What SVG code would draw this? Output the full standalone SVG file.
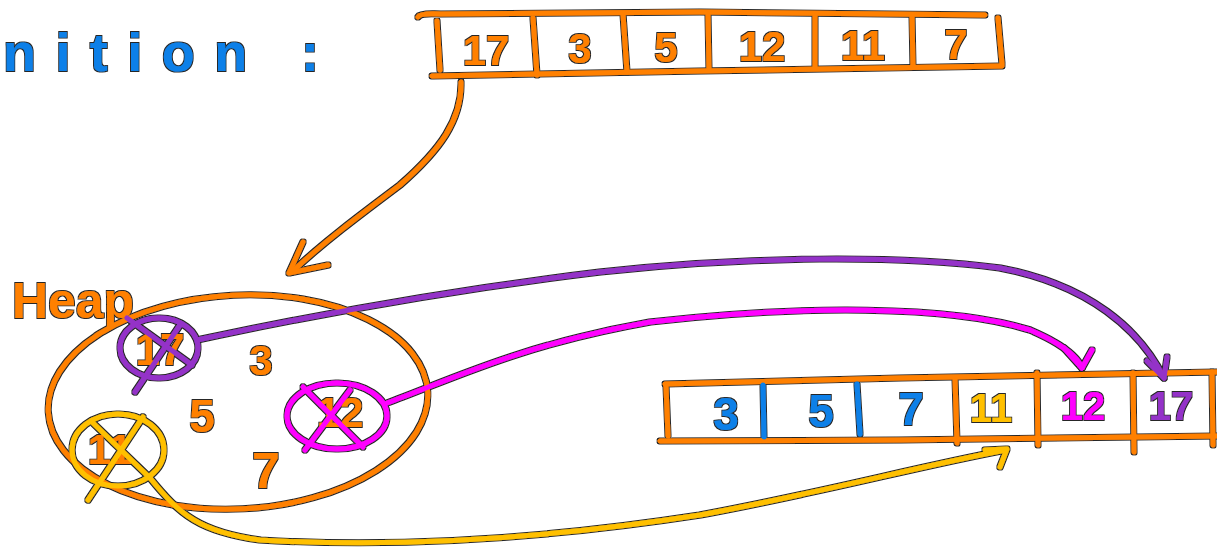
<svg xmlns="http://www.w3.org/2000/svg" width="1217" height="548" viewBox="0 0 1217 548">
<defs>
<filter id="ol" x="-5%" y="-5%" width="110%" height="110%">
<feMorphology in="SourceAlpha" operator="dilate" radius="1.2" result="d"/>
<feFlood flood-color="#000" flood-opacity="0.85"/>
<feComposite in2="d" operator="in" result="k"/>
<feMerge><feMergeNode in="k"/><feMergeNode in="SourceGraphic"/></feMerge>
</filter>
<style>
.s{fill:none;stroke-width:5;stroke-linecap:round;stroke-linejoin:round}
.or{stroke:#ff8000}.bl{stroke:#0f80e8}.pu{stroke:#9433c8}.mg{stroke:#ff00ff}.ye{stroke:#ffc000}
.t{font-family:"Liberation Sans",Arial,sans-serif;text-anchor:middle;font-weight:bold}
.tor{fill:#ff8000}.tbl{fill:#0f80e8}.tpu{fill:#9433c8}.tmg{fill:#ff00ff}.tye{fill:#ffc000}
</style>
</defs>
<rect width="1217" height="548" fill="#fff"/>
<g filter="url(#ol)">
<g id="title">
<text class="t tbl" x="3" y="71" font-size="54" textLength="316" lengthAdjust="spacing" style="text-anchor:start">nition :</text>
</g>
<g id="array-input">
<path class="s or" d="M418,17 Q420,13 440,14 L700,12 L985,15"/>
<path class="s or" d="M432,76 L700,71 L1002,66"/>
<path class="s or" d="M437,21 L440,70"/>
<path class="s or" d="M533,18 L537,75"/>
<path class="s or" d="M623,14 L627,72"/>
<path class="s or" d="M708,14 L709,70"/>
<path class="s or" d="M815,16 L815,68"/>
<path class="s or" d="M912,15 L913,67"/>
<path class="s or" d="M998,18 L1002,64"/>
<text class="t tor" x="486" y="65" font-size="42">17</text>
<text class="t tor" x="580" y="63" font-size="42">3</text>
<text class="t tor" x="666" y="62" font-size="42">5</text>
<text class="t tor" x="762" y="61" font-size="42">12</text>
<text class="t tor" x="863" y="60" font-size="42">11</text>
<text class="t tor" x="956" y="59" font-size="42">7</text>
</g>
<g id="heap">
<text class="t tor" x="12" y="318" font-size="50" textLength="122" lengthAdjust="spacingAndGlyphs" style="text-anchor:start">Heap</text>
<ellipse class="s or" cx="238" cy="402" rx="190" ry="107" transform="rotate(-3 238 402)"/>
<text class="t tor" x="261" y="375" font-size="42">3</text>
<text class="t tor" x="202" y="432" font-size="46">5</text>
<text class="t tor" x="266" y="488" font-size="50">7</text>
</g>
<g id="heap-17">
<text class="t tor" x="160" y="365" font-size="44">17</text>
<ellipse class="s pu" cx="159" cy="348" rx="39" ry="30"/>
<path class="s pu" d="M127,318 L192,365 M135,392 L180,325"/>
</g>
<g id="heap-12">
<text class="t tor" x="340" y="427" font-size="42">12</text>
<ellipse class="s mg" cx="337" cy="416" rx="50" ry="33"/>
<path class="s mg" d="M303,387 L363,447 M305,450 L350,390"/>
</g>
<g id="heap-11">
<text class="t tor" x="110" y="464" font-size="42">11</text>
<ellipse class="s ye" cx="118" cy="450" rx="46" ry="36"/>
<path class="s ye" d="M143,417 L88,500 M93,423 L150,478"/>
</g>
<g id="array-sorted">
<path class="s or" d="M665,384 L900,378 L1217,372"/>
<path class="s or" d="M660,441 L900,440 L1217,436"/>
<path class="s or" d="M666,386 L668,436"/>
<path class="s bl" d="M763,385 L764,437"/>
<path class="s bl" d="M857,384 L860,434"/>
<path class="s or" d="M955,378 L957,443"/>
<path class="s or" d="M1037,373 L1038,445"/>
<path class="s or" d="M1133,373 L1134,452"/>
<path class="s or" d="M1212,372 L1213,445"/>
<text class="t tbl" x="726" y="430" font-size="46">3</text>
<text class="t tbl" x="821" y="427" font-size="46">5</text>
<text class="t tbl" x="911" y="425" font-size="46">7</text>
<text class="t tye" x="991" y="422" font-size="40">11</text>
<text class="t tmg" x="1083" y="420" font-size="40">12</text>
<text class="t tpu" x="1171" y="420" font-size="40">17</text>
</g>
<g id="connectors">
<path class="s or" d="M461,82 C462,120 440,150 400,185 C360,215 320,245 292,272"/>
<path class="s or" d="M303,242 L289,273 L328,265"/>
<path class="s pu" d="M197,340 C300,318 450,290 600,272 C750,256 900,255 1000,268 C1090,285 1140,330 1164,378"/>
<path class="s pu" d="M1147,361 L1164,378 L1167,357"/>
<path class="s mg" d="M387,403 C450,380 520,345 650,322 C800,305 950,305 1030,330 C1065,345 1078,358 1082,368"/>
<path class="s mg" d="M1064,348 L1082,368 L1092,350"/>
<path class="s ye" d="M150,478 C180,515 200,532 260,540 C400,548 550,538 700,515 C820,493 920,466 1006,450"/>
<path class="s ye" d="M985,450 L1007,449 L1000,467"/>
</g>
</g>
</svg>
